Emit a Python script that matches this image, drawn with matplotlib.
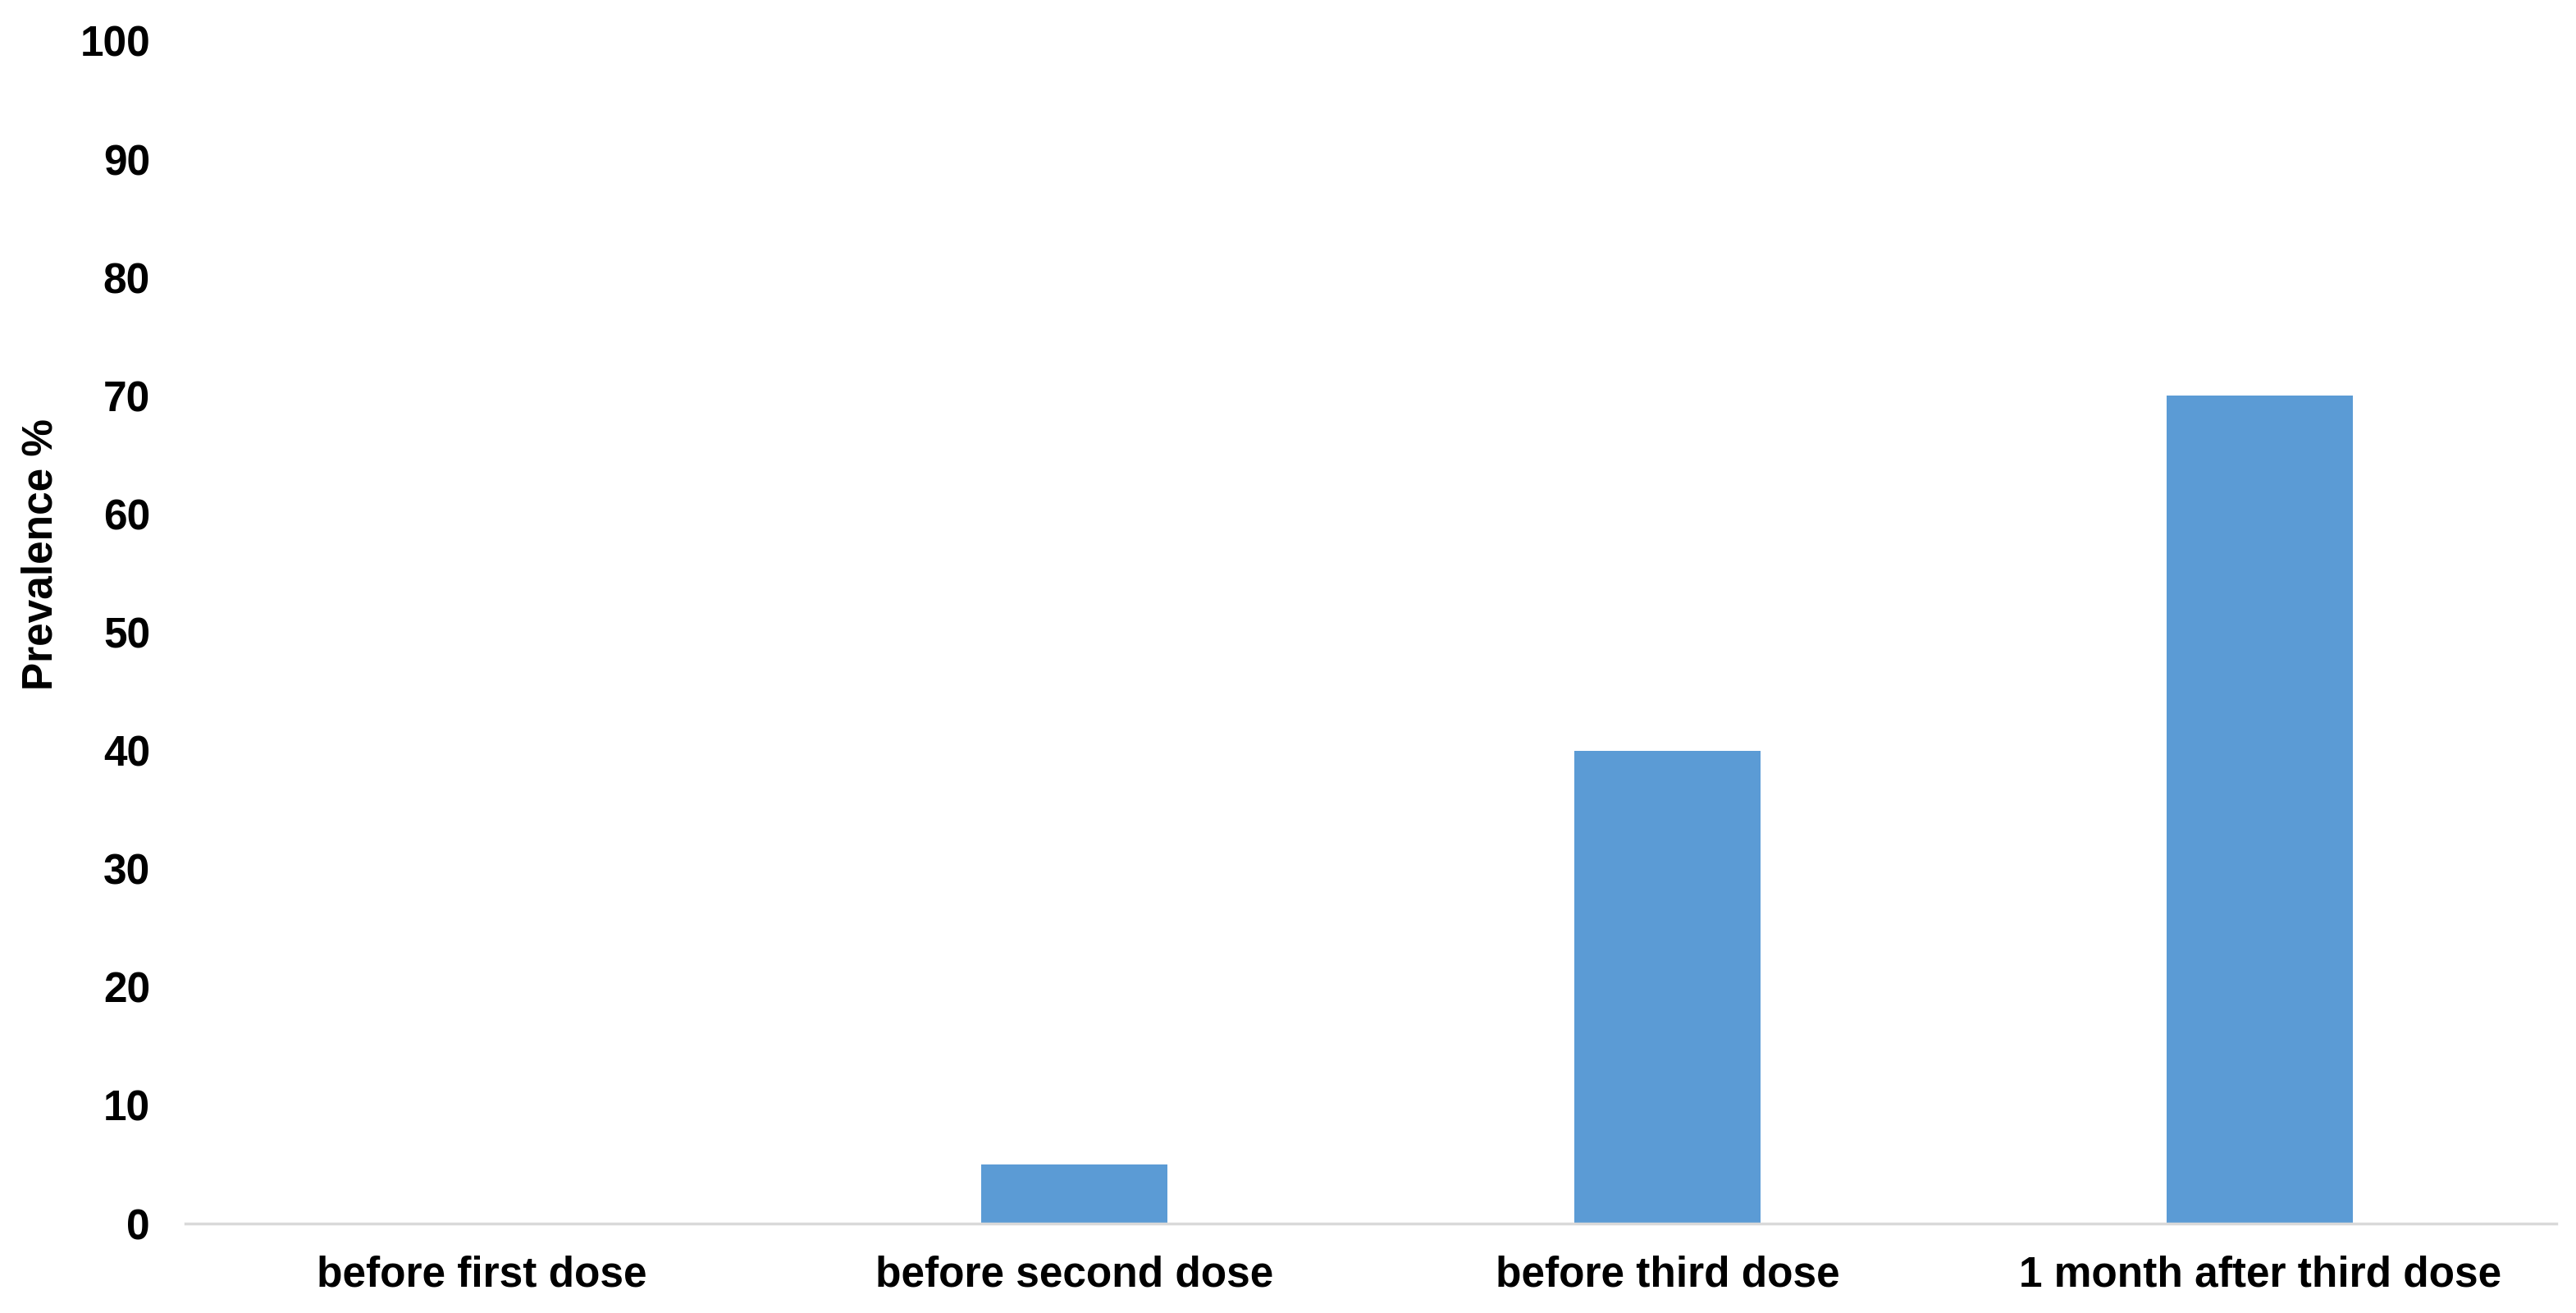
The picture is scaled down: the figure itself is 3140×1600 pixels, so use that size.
import matplotlib.pyplot as plt
import numpy as np

# data
categories = ["before first dose", "before second dose", "before third dose", "1 month after third dose"]
prevalence = [0, 5, 40, 70]
y_ticks = [0, 10, 20, 30, 40, 50, 60, 70, 80, 90, 100]

plt.rcParams['font.family'] = ['Liberation Sans', 'DejaVu Sans']

fig = plt.figure(figsize=(31.4, 16), dpi=100)
ax = fig.add_axes([0.072, 0.0681, 0.9204, 0.9007])

x = np.arange(len(categories))
ax.bar(x, prevalence, width=0.314, color='#5B9BD5', zorder=2)

ax.set_xlim(-0.5, len(categories) - 0.5)
ax.set_ylim(0, 100)
ax.set_xticks(x)
ax.set_xticklabels(categories, fontsize=37, fontweight='bold')
ax.set_yticks(y_ticks)
ax.set_yticklabels([str(t) for t in y_ticks], fontsize=37, fontweight='bold')
ax.tick_params(axis='both', length=0)
ax.tick_params(axis='y', pad=31)
ax.tick_params(axis='x', pad=28)

for side in ['top', 'right', 'left']:
    ax.spines[side].set_visible(False)
ax.spines['bottom'].set_color('#D9D9D9')
ax.spines['bottom'].set_linewidth(2.5)

ax.set_ylabel("Prevalence %", fontsize=37, fontweight='bold')
ax.yaxis.set_label_coords(-0.0526, 0.566)

fig.savefig("out.png", dpi=100)
